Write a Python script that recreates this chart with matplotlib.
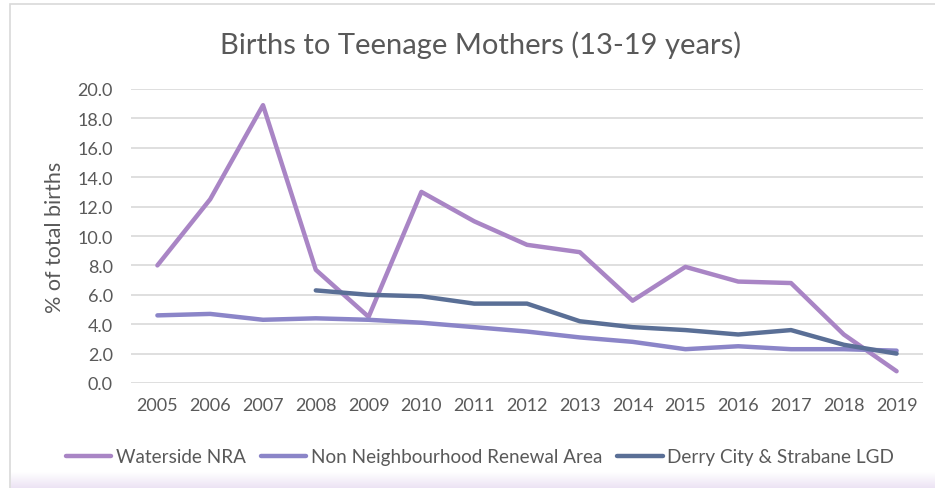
import matplotlib.pyplot as plt
import numpy as np
from matplotlib.patches import Rectangle
from matplotlib.colors import LinearSegmentedColormap

years = [str(y) for y in range(2005, 2020)]
waterside_nra = [8.0, 12.5, 18.9, 7.7, 4.5, 13.0, 11.0, 9.4, 8.9, 5.6, 7.9, 6.9, 6.8, 3.3, 0.8]
non_nra = [4.6, 4.7, 4.3, 4.4, 4.3, 4.1, 3.8, 3.5, 3.1, 2.8, 2.3, 2.5, 2.3, 2.3, 2.2]
derry_lgd = [None, None, None, 6.3, 6.0, 5.9, 5.4, 5.4, 4.2, 3.8, 3.6, 3.3, 3.6, 2.6, 2.0]

series = [
    ("Waterside NRA", waterside_nra, "#a985c5"),
    ("Non Neighbourhood Renewal Area", non_nra, "#8b85c8"),
    ("Derry City & Strabane LGD", derry_lgd, "#5a6f96"),
]

plt.rcParams["font.family"] = ["Lato", "DejaVu Sans"]
text_color = "#595959"

fig = plt.figure(figsize=(9.35, 4.89), dpi=100)

# chart frame and the lavender strip at the bottom
fig.patches.append(Rectangle((10 / 935, -0.1), 1.0, 1 - 5 / 489 + 0.1, transform=fig.transFigure,
                             facecolor="white", edgecolor="#d9d9d9", linewidth=1.2, zorder=-10))
grad = np.linspace(0, 1, 50).reshape(-1, 1)
gax = fig.add_axes([11 / 935, 0, 1 - 11 / 935, 16 / 489], zorder=-5)
gax.imshow(grad, aspect="auto", cmap=LinearSegmentedColormap.from_list("lav", ["#ece3f4", "#ffffff"]),
           extent=[0, 1, 0, 1], origin="lower")
gax.axis("off")

ax = fig.add_axes([131 / 935, 1 - 384 / 489, (923 - 131) / 935, (384 - 90) / 489])
ax.patch.set_alpha(0)

x = np.arange(len(years))
for label, values, color in series:
    y = np.array([np.nan if v is None else v for v in values], dtype=float)
    ax.plot(x, y, color=color, linewidth=3.2, label=label, solid_capstyle="round",
            solid_joinstyle="round")

ax.set_xlim(-0.5, len(years) - 0.5)
ax.set_ylim(0, 20)
ax.set_yticks(np.arange(0, 21, 2))
ax.set_yticklabels([f"{v:.1f}" for v in np.arange(0, 21, 2)])
ax.set_xticks(x)
ax.set_xticklabels(years)
ax.grid(axis="y", color="#d9d9d9", linewidth=1.2)
ax.set_axisbelow(True)
for s in ax.spines.values():
    s.set_visible(False)
ax.tick_params(length=0, labelsize=13, colors=text_color, pad=10)
ax.tick_params(axis="y", pad=13)
ax.set_ylabel("% of total births", fontsize=15.5, color=text_color)
ax.yaxis.set_label_coords((65 - 131) / (923 - 131), 0.5)

fig.text(481 / 935, 1 - 45 / 489, "Births to Teenage Mothers (13-19 years)", ha="center",
         va="center", fontsize=21, color=text_color)

fig.legend(loc="center", bbox_to_anchor=(480 / 935, 1 - 458 / 489), ncol=3, frameon=False,
           fontsize=13.6, labelcolor=text_color, handlelength=2.4, handletextpad=0.25,
           columnspacing=0.8)

fig.savefig("out.png", dpi=100)
